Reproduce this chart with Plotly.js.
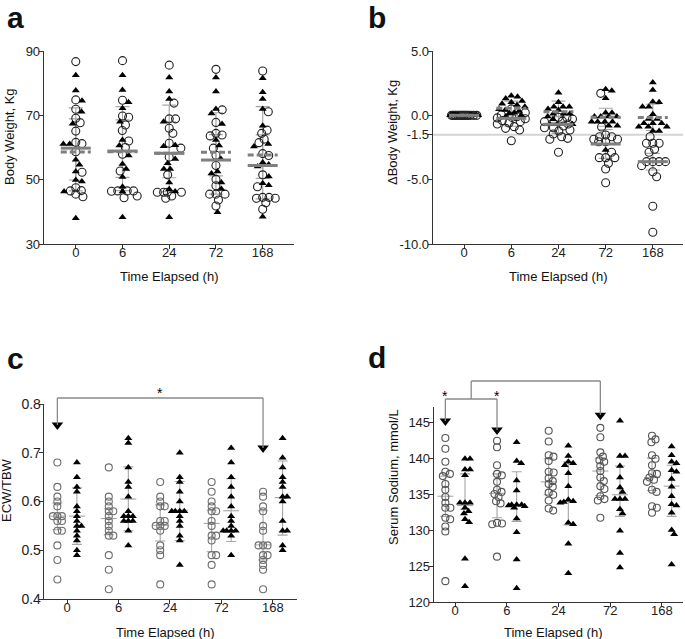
<!DOCTYPE html>
<html><head><meta charset="utf-8">
<script src="https://cdn.plot.ly/plotly-3.0.1.min.js"></script>
<style>html,body{margin:0;padding:0;background:#fff}#chart{width:685px;height:639px}</style>
</head><body><div id="chart"></div>
<script>
const W = 685, H = 639;
const FONT = 'Liberation Sans, Arial, Helvetica, sans-serif';
const categories = ['0', '6', '24', '72', '168'];
const catIdx = [0, 1, 2, 3, 4];

// ---------- Panel a: Body Weight, Kg ----------
const aCircles = [
  [86.7, 74.8, 71.9, 69.1, 67.7, 65.1, 61.2, 61.6, 58.7, 52.3, 47.5, 46.5, 46.6, 45.5, 44.7],
  [87.0, 74.7, 69.8, 69.4, 67.0, 65.3, 62.0, 60.0, 57.9, 52.7, 46.5, 46.5, 46.4, 46.5, 44.9, 44.4],
  [85.6, 73.8, 68.9, 68.9, 66.0, 64.4, 61.3, 59.8, 57.0, 51.5, 46.1, 46.1, 46.1, 46.1, 44.9, 44.2],
  [84.3, 71.7, 67.8, 63.6, 63.9, 64.4, 59.8, 57.6, 54.4, 50.1, 48.1, 45.5, 45.5, 45.5, 43.7, 41.8],
  [83.8, 71.1, 65.4, 64.4, 62.6, 61.5, 58.1, 57.5, 51.5, 47.8, 44.2, 44.2, 44.5, 44.5, 42.8, 40.8]
];
const aTriangles = [
  [82.5, 77.7, 74.5, 71.1, 67.4, 61.1, 61.1, 56.2, 54.6, 52.5, 49.9, 49.4, 46.3, 38.0],
  [82.5, 77.9, 74.1, 72.2, 68.0, 62.3, 60.6, 57.5, 54.9, 53.3, 50.8, 47.8, 46.3, 38.3],
  [81.8, 77.4, 75.1, 68.0, 60.7, 60.4, 56.4, 55.1, 53.3, 53.3, 49.1, 47.0, 46.3, 38.3],
  [81.8, 77.4, 72.0, 70.6, 67.3, 62.3, 60.6, 56.4, 52.5, 51.9, 49.1, 47.1, 39.9],
  [81.5, 77.2, 75.1, 72.0, 66.8, 61.1, 60.3, 55.3, 54.7, 54.1, 51.0, 48.9, 48.3, 38.5]
];
const aTriMean = [58.6, 58.7, 58.2, 58.5, 57.7];
const aTriHi   = [72.3, 72.7, 73.2, 70.8, 72.7];
const aTriLo   = [46.5, 46.6, 46.3, 45.5, 44.0];
const aCirMean = [59.8, 58.9, 58.2, 56.1, 54.4];
const aCirHi   = [68.9, 68.6, 68.0, 64.0, 63.9];
const aCirLo   = [49.9, 50.7, 50.6, 51.2, 50.4];

// ---------- Panel b: ΔBody Weight, Kg ----------
const bCircles = [
  [0, 0, 0, 0, 0, 0, 0, 0, 0, 0, 0, 0, 0, 0, 0],
  [0.50, 0.21, 0.03, -0.11, -0.16, -0.20, -0.26, -0.40, -0.49, -0.60, -0.67, -0.88, -1.01, -1.14, -1.97],
  [-0.15, -0.19, -0.28, -0.45, -0.49, -0.67, -0.83, -0.96, -0.96, -1.14, -1.22, -1.45, -1.66, -1.79, -1.86, -2.87],
  [1.71, -0.91, -1.53, -1.66, -1.66, -1.86, -1.86, -2.05, -2.05, -2.87, -3.29, -3.29, -3.29, -3.73, -4.17, -5.24],
  [-1.66, -2.17, -2.17, -2.17, -2.64, -2.87, -3.60, -3.60, -3.60, -3.60, -3.91, -4.38, -4.77, -7.07, -9.09]
];
const bTriangles = [
  [0, 0, 0, 0, 0, 0, 0, 0, 0, 0, 0, 0, 0, 0, 0],
  [1.53, 1.45, 1.30, 1.11, 1.01, 0.90, 0.80, 0.67, 0.47, 0.41, 0.34, 0.21, 0.16, 0.0, -0.10],
  [1.76, 1.01, 0.67, 0.67, 0.67, 0.50, 0.41, 0.13, 0.13, 0.13, -0.10, -0.30, -0.70, -0.70, -0.70],
  [2.02, 1.92, 1.32, 0.21, 0.21, -0.10, -0.10, -0.10, -0.10, -0.49, -0.49, -0.49, -0.49, -0.80, -0.80, -2.70],
  [2.56, 1.97, 1.05, 1.01, 0.67, 0.67, 0.08, -0.28, -0.28, -0.62, -0.62, -0.62, -0.88, -0.88, -0.88, -1.22, -1.22]
];
const bTriMean = [0, 0.55, 0.28, -0.15, -0.16];
const bTriHi   = [0, 1.10, 1.10, 0.55, 0.86];
const bTriLo   = [0, 0.00, -0.55, -0.85, -1.18];
const bCirMean = [0, -0.23, -0.70, -2.23, -3.60];
const bCirHi   = [0, 0.30, -0.10, -1.10, -2.95];
const bCirLo   = [0, -0.85, -1.40, -3.35, -4.25];
const bTickVals = [5, 0, -1.5, -5, -10];
const bTickText = ['5.0', '0.0', '-1.5', '-5.0', '-10.0'];
const bRefLine = -1.5;

// ---------- Panel c: ECW/TBW ----------
const cCircles = [
  [0.68, 0.63, 0.61, 0.60, 0.59, 0.57, 0.57, 0.57, 0.56, 0.56, 0.54, 0.54, 0.51, 0.48, 0.44],
  [0.67, 0.61, 0.60, 0.59, 0.58, 0.58, 0.57, 0.56, 0.55, 0.54, 0.53, 0.53, 0.49, 0.46, 0.42],
  [0.64, 0.61, 0.60, 0.59, 0.59, 0.56, 0.56, 0.55, 0.55, 0.55, 0.54, 0.51, 0.50, 0.49, 0.43],
  [0.64, 0.62, 0.60, 0.59, 0.58, 0.58, 0.56, 0.55, 0.53, 0.53, 0.52, 0.49, 0.49, 0.47, 0.43],
  [0.62, 0.61, 0.59, 0.58, 0.55, 0.54, 0.51, 0.51, 0.51, 0.49, 0.49, 0.48, 0.47, 0.46, 0.42]
];
const cTriangles = [
  [0.68, 0.65, 0.63, 0.62, 0.59, 0.58, 0.57, 0.56, 0.55, 0.55, 0.54, 0.53, 0.52, 0.50, 0.49],
  [0.73, 0.72, 0.67, 0.64, 0.63, 0.61, 0.58, 0.57, 0.57, 0.57, 0.56, 0.56, 0.56, 0.54, 0.51],
  [0.70, 0.65, 0.64, 0.62, 0.60, 0.58, 0.58, 0.58, 0.58, 0.57, 0.56, 0.55, 0.53, 0.52, 0.47],
  [0.71, 0.68, 0.65, 0.63, 0.61, 0.59, 0.57, 0.56, 0.55, 0.54, 0.54, 0.54, 0.54, 0.53, 0.49],
  [0.73, 0.69, 0.67, 0.65, 0.64, 0.63, 0.61, 0.61, 0.60, 0.56, 0.54, 0.54, 0.51, 0.50]
];
const cCirMid = [0.570, 0.565, 0.551, 0.555, 0.511];
const cCirHi  = [0.597, 0.585, 0.593, 0.582, 0.581];
const cCirLo  = [0.542, 0.532, 0.519, 0.497, 0.480];
const cTriMid = [0.570, 0.605, 0.582, 0.581, 0.608];
const cTriHi  = [0.628, 0.671, 0.641, 0.647, 0.683];
const cTriLo  = [0.512, 0.540, 0.520, 0.518, 0.531];

// ---------- Panel d: Serum Sodium, mmol/L ----------
const dCircles = [
  [142.8, 141.3, 139.5, 138.1, 137.8, 137.5, 136.4, 135.6, 134.6, 133.8, 133.1, 133.1, 131.7, 131.5, 130.5, 129.8, 122.9],
  [142.4, 141.5, 139.0, 137.8, 137.6, 136.7, 135.6, 135.3, 135.0, 134.6, 134.0, 133.7, 131.0, 130.9, 130.8, 126.3],
  [143.8, 142.3, 140.4, 140.2, 139.6, 138.1, 138.0, 137.2, 136.8, 136.4, 136.0, 135.2, 134.9, 134.1, 133.0, 132.7],
  [144.2, 142.9, 140.8, 140.2, 139.7, 139.5, 138.9, 138.2, 137.3, 136.8, 136.1, 135.7, 134.7, 134.3, 134.1, 131.7],
  [143.1, 142.6, 142.2, 140.4, 139.9, 139.0, 137.9, 137.8, 137.3, 137.0, 136.7, 135.6, 135.3, 133.3, 133.1, 132.4]
];
const dTriangles = [
  [139.9, 139.9, 138.4, 138.4, 137.6, 133.8, 133.8, 133.8, 133.1, 132.6, 132.3, 131.5, 131.1, 126.0, 122.2],
  [142.2, 139.6, 139.3, 136.9, 135.5, 133.5, 133.5, 133.5, 133.4, 133.3, 133.1, 131.6, 129.7, 125.9, 121.9],
  [141.7, 140.3, 139.5, 139.3, 139.0, 137.9, 136.1, 134.2, 134.0, 133.9, 133.8, 131.0, 130.8, 128.1, 124.0],
  [145.2, 140.3, 140.3, 138.9, 137.3, 135.9, 135.3, 134.3, 134.3, 134.3, 132.9, 132.3, 129.9, 126.8, 124.8],
  [141.6, 140.4, 139.5, 139.3, 138.3, 138.1, 137.1, 136.0, 134.7, 133.6, 133.4, 132.4, 130.0, 129.4, 125.2]
];
const dCirMid = [134.7, 135.1, 136.7, 138.2, 137.3];
const dCirHi  = [137.5, 137.8, 139.9, 140.0, 140.0];
const dCirLo  = [131.9, 131.7, 134.9, 134.8, 135.5];
const dTriMid = [133.4, 133.5, 134.0, 134.9, 136.1];
const dTriHi  = [137.8, 138.1, 139.5, 138.9, 139.0];
const dTriLo  = [132.9, 131.2, 130.7, 131.9, 131.9];

// ---------- layout geometry ----------
const P = {
  a: {x: [44 / W, 294 / W], y: [1 - 244 / H, 1 - 51 / H], xr: [-0.68, 4.67], yr: [30, 90]},
  b: {x: [433 / W, 683 / W], y: [1 - 244 / H, 1 - 51 / H], xr: [-0.66, 4.64], yr: [-10, 5]},
  c: {x: [44 / W, 297 / W], y: [1 - 599 / H, 1 - 404 / H], xr: [-0.45, 4.47], yr: [0.4, 0.8]},
  d: {x: [434 / W, 683 / W], y: [1 - 602 / H, 1 - 407 / H], xr: [-0.41, 4.41], yr: [120, 147.1]}
};
function pxScale(p) {
  return {
    px: (p.x[1] - p.x[0]) * W / (p.xr[1] - p.xr[0]),
    py: (p.y[1] - p.y[0]) * H / (p.yr[1] - p.yr[0])
  };
}

// simple deterministic beeswarm: returns horizontal pixel offsets
function swarm(vals, py, diam, maxW) {
  const order = vals.map((v, i) => i).sort((a, b) => vals[b] - vals[a]);
  const placed = [];
  const out = new Array(vals.length);
  order.forEach(i => {
    const y = vals[i] * py;
    const cands = [0];
    placed.forEach(p => {
      const dy = Math.abs(p.y - y);
      if (dy < diam) {
        const dx = Math.sqrt(diam * diam - dy * dy);
        cands.push(p.x + dx + 0.01, p.x - dx - 0.01);
      }
    });
    cands.sort((a, b) => Math.abs(a) - Math.abs(b));
    let best = null;
    for (const c of cands) {
      if (Math.abs(c) > maxW) continue;
      if (placed.every(p => (p.x - c) ** 2 + (p.y - y) ** 2 >= diam * diam - 1e-6)) { best = c; break; }
    }
    if (best === null) {
      let score = -1;
      for (let c = -maxW; c <= maxW + 1e-9; c += 0.5) {
        let md = Infinity;
        placed.forEach(p => { md = Math.min(md, Math.hypot(p.x - c, p.y - y)); });
        if (md > score + 1e-9) { score = md; best = c; }
      }
    }
    placed.push({x: best, y: y});
    out[i] = best;
  });
  return out;
}

function mixedSwarm(cir, tri, s, diam, maxW) {
  const r = {cx: [], cy: [], tx: [], ty: []};
  cir.forEach((cv, k) => {
    const tv = tri[k];
    const offs = swarm(cv.concat(tv), s.py, diam, maxW);
    cv.forEach((v, i) => { r.cx.push(catIdx[k] + offs[i] / s.px); r.cy.push(v); });
    tv.forEach((v, i) => { r.tx.push(catIdx[k] + offs[cv.length + i] / s.px); r.ty.push(v); });
  });
  return r;
}
function groupSwarm(groups, shift, s, diam, maxW) {
  const r = {x: [], y: []};
  groups.forEach((gv, k) => {
    const offs = swarm(gv, s.py, diam, maxW);
    gv.forEach((v, i) => { r.x.push(catIdx[k] + shift + offs[i] / s.px); r.y.push(v); });
  });
  return r;
}

function errTrace(xa, ya, xs, m, hi, lo, color, width, thick) {
  return {type: 'scatter', mode: 'markers', xaxis: xa, yaxis: ya, x: xs, y: m,
    marker: {size: 1, color: 'rgba(0,0,0,0)'},
    error_y: {type: 'data', symmetric: false, array: hi.map((h, i) => h - m[i]),
      arrayminus: lo.map((l, i) => m[i] - l), color: color, thickness: thick, width: width},
    hoverinfo: 'skip', showlegend: false};
}
function meanTrace(xa, ya, xs, m, half, color, w, dash) {
  const x = [], y = [];
  xs.forEach((c, i) => { x.push(c - half, c + half, null); y.push(m[i], m[i], null); });
  return {type: 'scatter', mode: 'lines', xaxis: xa, yaxis: ya, x: x, y: y,
    line: {color: color, width: w, dash: dash}, hoverinfo: 'skip', showlegend: false};
}
function ptTrace(xa, ya, x, y, kind, size, color) {
  const m = kind === 'c'
    ? {symbol: 'circle-open', size: size, color: color, line: {width: 1.1, color: color}}
    : {symbol: 'triangle-up', size: size, color: color, line: {width: 0}};
  return {type: 'scatter', mode: 'markers', xaxis: xa, yaxis: ya, x: x, y: y, marker: m,
    cliponaxis: false, hoverinfo: 'skip', showlegend: false};
}

const traces = [];
const MEANC = '#7f7f7f', ERRC = '#a8a8a8', LIGHT = '#a6a6a6';

// panel a
(function () {
  const s = pxScale(P.a);
  const sw = mixedSwarm(aCircles, aTriangles, s, 6.3, 15);
  const half = 15 / s.px;
  traces.push(errTrace('x', 'y', catIdx, aTriMean, aTriHi, aTriLo, ERRC, 7, 1.2));
  traces.push(errTrace('x', 'y', catIdx, aCirMean, aCirHi, aCirLo, ERRC, 7, 1.2));
  traces.push(ptTrace('x', 'y', sw.cx, sw.cy, 'c', 8, '#222'));
  traces.push(ptTrace('x', 'y', sw.tx, sw.ty, 't', 7, '#000'));
  traces.push(meanTrace('x', 'y', catIdx, aTriMean, half, MEANC, 3, '6px,3px'));
  traces.push(meanTrace('x', 'y', catIdx, aCirMean, half, MEANC, 3, 'solid'));
})();
// panel b
(function () {
  const s = pxScale(P.b);
  const sw = mixedSwarm(bCircles, bTriangles, s, 6.3, 14);
  const half = 15 / s.px;
  traces.push(errTrace('x2', 'y2', catIdx, bTriMean, bTriHi, bTriLo, ERRC, 7, 1.2));
  traces.push(errTrace('x2', 'y2', catIdx, bCirMean, bCirHi, bCirLo, ERRC, 7, 1.2));
  traces.push(ptTrace('x2', 'y2', sw.cx, sw.cy, 'c', 8, '#222'));
  traces.push(ptTrace('x2', 'y2', sw.tx, sw.ty, 't', 7, '#000'));
  traces.push(meanTrace('x2', 'y2', catIdx, bTriMean, half, MEANC, 3, '6px,3px'));
  traces.push(meanTrace('x2', 'y2', catIdx, bCirMean, half, MEANC, 3, 'solid'));
})();
// panel c
const GSHIFT = 0.19;
(function () {
  const s = pxScale(P.c);
  const xc = catIdx.map(k => k - GSHIFT), xt = catIdx.map(k => k + GSHIFT);
  const half = 8 / s.px;
  traces.push(errTrace('x3', 'y3', xc, cCirMid, cCirHi, cCirLo, LIGHT, 5, 1.1));
  traces.push(errTrace('x3', 'y3', xt, cTriMid, cTriHi, cTriLo, LIGHT, 5, 1.1));
  traces.push(meanTrace('x3', 'y3', xc, cCirMid, half, LIGHT, 1.1, 'solid'));
  traces.push(meanTrace('x3', 'y3', xt, cTriMid, half, LIGHT, 1.1, 'solid'));
  const gc = groupSwarm(cCircles, -GSHIFT, s, 4.5, 8);
  const gt = groupSwarm(cTriangles, GSHIFT, s, 4.5, 8);
  traces.push(ptTrace('x3', 'y3', gc.x, gc.y, 'c', 7, '#6e6e6e'));
  traces.push(ptTrace('x3', 'y3', gt.x, gt.y, 't', 7, '#000'));
  // arrow heads of the significance bracket
  traces.push({type: 'scatter', mode: 'markers', xaxis: 'x3', yaxis: 'y3',
    x: [0 - GSHIFT, 4 - GSHIFT], y: [0.757, 0.7097], cliponaxis: false,
    marker: {symbol: 'triangle-down', size: 10, color: '#000'}, hoverinfo: 'skip', showlegend: false});
})();
// panel d
(function () {
  const s = pxScale(P.d);
  const xc = catIdx.map(k => k - GSHIFT), xt = catIdx.map(k => k + GSHIFT);
  const half = 8 / s.px;
  traces.push(errTrace('x4', 'y4', xc, dCirMid, dCirHi, dCirLo, LIGHT, 5, 1.1));
  traces.push(errTrace('x4', 'y4', xt, dTriMid, dTriHi, dTriLo, LIGHT, 5, 1.1));
  traces.push(meanTrace('x4', 'y4', xc, dCirMid, half, LIGHT, 1.1, 'solid'));
  traces.push(meanTrace('x4', 'y4', xt, dTriMid, half, LIGHT, 1.1, 'solid'));
  const gc = groupSwarm(dCircles, -GSHIFT, s, 5, 8);
  const gt = groupSwarm(dTriangles, GSHIFT, s, 5, 8);
  traces.push(ptTrace('x4', 'y4', gc.x, gc.y, 'c', 7, '#555'));
  traces.push(ptTrace('x4', 'y4', gt.x, gt.y, 't', 7, '#000'));
  traces.push({type: 'scatter', mode: 'markers', xaxis: 'x4', yaxis: 'y4',
    x: [0 - GSHIFT, 1 - GSHIFT, 3 - GSHIFT], y: [145.14, 143.9, 145.97], cliponaxis: false,
    marker: {symbol: 'triangle-down', size: 10, color: '#000'}, hoverinfo: 'skip', showlegend: false});
})();

function xAxis(p, anchor) {
  return {domain: p.x, range: p.xr, anchor: anchor, tickmode: 'array', tickvals: catIdx, ticktext: categories,
    showline: true, linecolor: '#333', linewidth: 1.3, ticks: 'outside', ticklen: 4, tickcolor: '#333',
    ticklabelstandoff: -8,
    showgrid: false, zeroline: false, tickfont: {family: FONT, size: 13, color: '#222'}, fixedrange: true};
}
function yAxis(p, anchor, extra) {
  return Object.assign({domain: p.y, range: p.yr, anchor: anchor,
    showline: true, linecolor: '#333', linewidth: 1.3, ticks: 'outside', ticklen: 4, tickcolor: '#333',
    ticklabelstandoff: -4,
    showgrid: false, zeroline: false, tickfont: {family: FONT, size: 13, color: '#222'}, fixedrange: true}, extra);
}

const ypx = v => 1 - v / H;
const BR = '#8a8a8a';
function seg(xref, x0, y0, x1, y1) {
  return {type: 'line', xref: xref, yref: 'paper', x0: x0, x1: x1, y0: ypx(y0), y1: ypx(y1),
    line: {color: BR, width: 1.3}, layer: 'above'};
}

const shapes = [
  {type: 'line', xref: 'x2 domain', yref: 'y2', x0: 0, x1: 1, y0: bRefLine, y1: bRefLine,
    line: {color: '#d4d4d4', width: 2}, layer: 'below'},
  // panel c bracket
  seg('x3', 0 - GSHIFT, 398, 4 - GSHIFT, 398),
  seg('x3', 0 - GSHIFT, 398, 0 - GSHIFT, 425),
  seg('x3', 4 - GSHIFT, 398, 4 - GSHIFT, 448),
  // panel d brackets
  seg('x4', 0 - GSHIFT, 399, 1 - GSHIFT, 399),
  seg('x4', 0 - GSHIFT, 399, 0 - GSHIFT, 421),
  seg('x4', 1 - GSHIFT, 399, 1 - GSHIFT, 430),
  seg('x4', 0.5 - GSHIFT, 399, 0.5 - GSHIFT, 381),
  seg('x4', 0.5 - GSHIFT, 381, 3 - GSHIFT, 381),
  seg('x4', 3 - GSHIFT, 381, 3 - GSHIFT, 415)
];

function txt(text, xp, yp, size, opts) {
  return Object.assign({text: text, xref: 'paper', yref: 'paper', x: xp / W, y: 1 - yp / H,
    xanchor: 'center', yanchor: 'middle', showarrow: false,
    font: {family: FONT, size: size, color: '#111'}}, opts || {});
}
const annotations = [
  txt('<b>a</b>', 16, 18, 30),
  txt('<b>b</b>', 377, 18, 30),
  txt('<b>c</b>', 16, 358, 30),
  txt('<b>d</b>', 377, 357, 30),
  txt('Time Elapsed (h)', 169, 276, 13),
  txt('Time Elapsed (h)', 558, 276, 13),
  txt('Time Elapsed (h)', 165, 632, 13),
  txt('Time Elapsed (h)', 553, 632, 13),
  txt('Body Weight, Kg', 9, 137, 13, {textangle: -90}),
  txt('ΔBody Weight, Kg', 392, 132, 13, {textangle: -90}),
  txt('ECW/TBW', 6, 490, 13, {textangle: -90}),
  txt('Serum Sodium, mmol/L', 393, 477, 13, {textangle: -90}),
  {text: '*', xref: 'x3', yref: 'paper', x: 1.8, y: 1 - 393 / H, showarrow: false,
    xanchor: 'center', yanchor: 'middle', font: {family: FONT, size: 14, color: '#000'}},
  {text: '*', xref: 'x4', yref: 'paper', x: 0 - GSHIFT, y: 1 - 396 / H, showarrow: false,
    xanchor: 'center', yanchor: 'middle', font: {family: FONT, size: 14, color: '#000'}},
  {text: '*', xref: 'x4', yref: 'paper', x: 1 - GSHIFT, y: 1 - 396 / H, showarrow: false,
    xanchor: 'center', yanchor: 'middle', font: {family: FONT, size: 14, color: '#000'}}
];

const layout = {
  width: W, height: H, margin: {l: 0, r: 0, t: 0, b: 0},
  paper_bgcolor: '#fff', plot_bgcolor: 'rgba(0,0,0,0)', showlegend: false,
  font: {family: FONT, color: '#222'},
  xaxis: xAxis(P.a, 'y'), yaxis: yAxis(P.a, 'x', {tickvals: [30, 50, 70, 90]}),
  xaxis2: xAxis(P.b, 'y2'), yaxis2: yAxis(P.b, 'x2', {tickmode: 'array', tickvals: bTickVals, ticktext: bTickText}),
  xaxis3: xAxis(P.c, 'y3'), yaxis3: yAxis(P.c, 'x3', {tickvals: [0.4, 0.5, 0.6, 0.7, 0.8], tickformat: '.1f', ticklabelstandoff: -5, tickfont: {family: FONT, size: 14, color: '#222'}}),
  xaxis4: xAxis(P.d, 'y4'), yaxis4: yAxis(P.d, 'x4', {tickvals: [120, 125, 130, 135, 140, 145]}),
  shapes: shapes, annotations: annotations
};

Plotly.newPlot('chart', traces, layout, {staticPlot: true, displayModeBar: false});
</script>
</body></html>
